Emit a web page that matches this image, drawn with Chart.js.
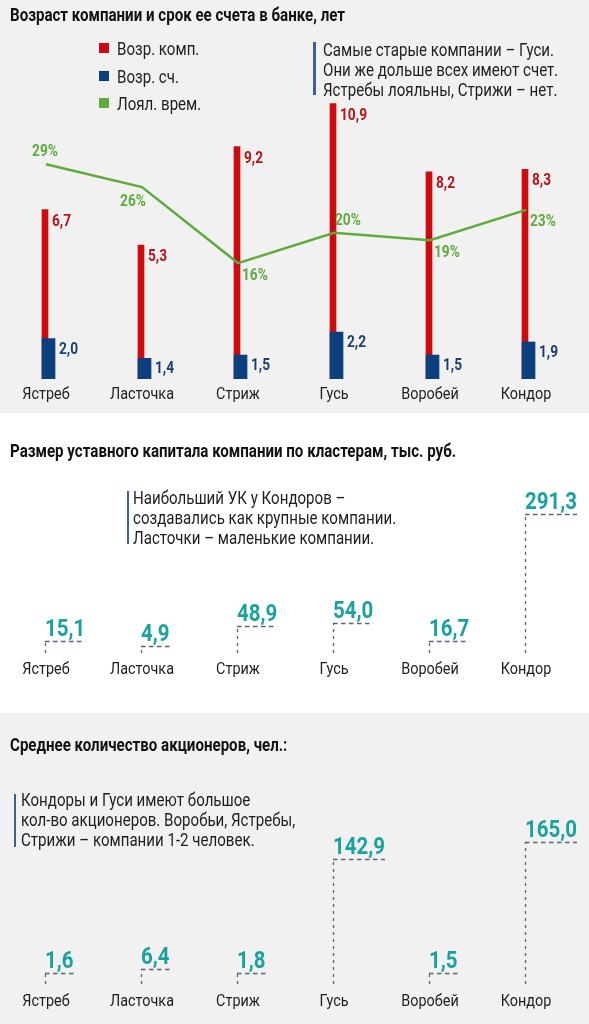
<!DOCTYPE html>
<html><head><meta charset="utf-8">
<script src="https://cdn.jsdelivr.net/npm/chart.js@4.4.1/dist/chart.umd.min.js"></script>
<style>
html,body{margin:0;padding:0;}
body{width:589px;height:1024px;position:relative;overflow:hidden;background:#fff;}
.panel{position:absolute;left:0;width:589px;}
.cw{position:absolute;left:-2px;width:591px;}
.t{position:absolute;white-space:nowrap;transform-origin:0 0;margin:0;padding:0;}
.nb{position:absolute;background:#41628f;width:2.5px;}
.sq{position:absolute;width:10px;height:10px;}
</style></head><body>
<div class="panel" style="top:0;height:413px;background:#f1f1f1"></div>
<div class="panel" style="top:413px;height:300px;background:#ffffff"></div>
<div class="panel" style="top:713px;height:311px;background:#f1f1f1"></div>
<div class="cw" style="top:0;height:412px"><canvas id="c1"></canvas></div>
<div class="cw" style="top:413px;height:300px"><canvas id="c2"></canvas></div>
<div class="cw" style="top:713px;height:311px"><canvas id="c3"></canvas></div>
<script>
// ---------------- DATA ----------------
const categories   = ['Ястреб','Ласточка','Стриж','Гусь','Воробей','Кондор'];
const companyAge   = [6.7, 5.3, 9.2, 10.9, 8.2, 8.3];     // Возр. комп., лет
const accountAge   = [2.0, 1.4, 1.5, 2.2, 1.5, 1.9];      // Возр. сч., лет
const loyaltyPct   = [29, 26, 16, 20, 19, 23];            // Лоял. врем., %
const capitalK     = [15.1, 4.9, 48.9, 54.0, 16.7, 291.3]; // тыс. руб.
const shareholders = [1.6, 6.4, 1.8, 142.9, 1.5, 165.0];  // чел.
const seriesNames  = ['Возр. комп.', 'Возр. сч.', 'Лоял. врем.'];
const titles = [
  'Возраст компании и срок ее счета в банке, лет',
  'Размер уставного капитала компании по кластерам, тыс. руб.',
  'Среднее количество акционеров, чел.:'
];
const notes = [
  ['Самые старые компании – Гуси.', 'Они же дольше всех имеют счет.', 'Ястребы лояльны, Стрижи – нет.'],
  ['Наибольший УК у Кондоров –', 'создавались как крупные компании.', 'Ласточки – маленькие компании.'],
  ['Кондоры и Гуси имеют большое', 'кол-во акционеров. Воробьи, Ястребы,', 'Стрижи – компании 1-2 человек.']
];
// label placement style for loyalty line (not data)
const loyaltyLabelPos = ['top','bottomLeft','bottomRight','topRight','bottomRight','bottomRight'];

// ---------------- STYLE ----------------
const RED = '#cc0a0f', RED_T = '#b8121a';
const BLUE = '#0b3f80', BLUE_T = '#1d3f74';
const GREEN = '#5eab3b', GREEN_T = '#5faa3c';
const TEAL = '#1aa39e', DASH = '#56657a';
const TXT = '#1e1e1e';

function hasFont(name){
  const c = document.createElement('canvas').getContext('2d');
  const s = 'Самые старые компании mmmwwwiii 0123';
  for (const fb of ['monospace','serif']) {
    c.font = '30px ' + fb; const a = c.measureText(s).width;
    c.font = "30px '" + name + "', " + fb; const b = c.measureText(s).width;
    if (Math.abs(a-b) > 0.01) return true;
  }
  return false;
}
const FAM = hasFont('Liberation Sans Narrow') ? "'Liberation Sans Narrow'" : (hasFont('Roboto') ? 'Roboto' : "'Liberation Sans'");
const FAMC = FAM.replace(/'/g,'');

const mctx = document.createElement('canvas').getContext('2d');
function tw(text, font){ mctx.font = font; return mctx.measureText(text).width; }
function fm(font){ mctx.font = font; const m = mctx.measureText('Hg'); return {a:m.fontBoundingBoxAscent, d:m.fontBoundingBoxDescent}; }

const F_REG = '18px ' + FAM, F_TITLE = 'bold 18px ' + FAM, F_LAB = 'bold 16px ' + FAM, F_BIG = 'bold 24px ' + FAM;
const kReg = 231 / tw('Самые старые компании – Гуси.', F_REG);
const kTitle = 335 / tw(titles[0], F_TITLE);
const kLab = 27 / tw('10,9', F_LAB);
const kBig = 52 / tw('291,3', F_BIG);
const TS = 17;
const kTick = Math.min(1, 64 / tw('Ласточка', TS + 'px ' + FAM));

const fmt = v => v.toFixed(1).replace('.', ',');

function drawCond(ctx, text, x, y, font, color, k){
  ctx.save();
  ctx.font = font; ctx.fillStyle = color; ctx.textAlign = 'left'; ctx.textBaseline = 'alphabetic';
  ctx.translate(x, y); ctx.scale(k, 1); ctx.fillText(text, 0, 0);
  ctx.restore();
}

function addText(str, x, base, font, k, color, lh){
  const el = document.createElement('div');
  el.className = 't'; el.textContent = str;
  el.style.font = font; el.style.lineHeight = lh + 'px'; el.style.color = color;
  const m = fm(font); const off = (lh - (m.a + m.d)) / 2 + m.a;
  el.style.left = x + 'px'; el.style.top = (base - off) + 'px';
  el.style.transform = 'scaleX(' + k + ')';
  document.body.appendChild(el);
  return el;
}
function addNote(lines, barX, barTop, barBot, textX, base0){
  const b = document.createElement('div'); b.className = 'nb';
  b.style.left = barX + 'px'; b.style.top = barTop + 'px'; b.style.height = (barBot - barTop) + 'px';
  document.body.appendChild(b);
  lines.forEach((l, i) => addText(l, textX, base0 + i * 20, F_REG, kReg, TXT, 20));
}

Chart.defaults.font.family = FAMC;

const shiftPlugin = {
  id: 'shift',
  afterDatasetsUpdate(chart){
    chart.data.datasets.forEach((ds, i) => {
      const s = ds.xShift || 0; if (!s) return;
      chart.getDatasetMeta(i).data.forEach(el => { el.x += s; });
    });
  }
};
// condense the library-drawn tick labels horizontally (same text, narrower glyphs)
const condTicks = {
  id: 'condTicks',
  beforeDraw(chart){
    const ctx = chart.ctx;
    const orig = CanvasRenderingContext2D.prototype.fillText;
    ctx.fillText = function(t, x, y){ this.save(); this.translate(x, y); this.scale(kTick, 1); orig.call(this, t, 0, 0); this.restore(); };
  },
  beforeDatasetsDraw(chart){ delete chart.ctx.fillText; }
};

const PAD_R = 15;
function xAxis(h, mid){
  return {
    type: 'category', offset: true,
    grid: {display: false, drawTicks: false}, border: {display: false},
    ticks: {color: TXT, font: {family: FAMC, size: TS}, padding: mid - TS * 0.6, maxRotation: 0, autoSkip: false},
    afterFit(s){ s.height = h; }
  };
}

// ---------------- CHART 1 ----------------
const labels1Plugin = {
  id: 'labels1',
  afterDatasetsDraw(chart){
    const ctx = chart.ctx;
    const mL = chart.getDatasetMeta(0), mB = chart.getDatasetMeta(1), mR = chart.getDatasetMeta(2);
    const dL = chart.data.datasets[0].data, dB = chart.data.datasets[1].data, dR = chart.data.datasets[2].data;
    mR.data.forEach((el, i) => drawCond(ctx, fmt(dR[i]), el.x + el.width / 2 + 4, el.y + 16, F_LAB, RED_T, kLab));
    mB.data.forEach((el, i) => drawCond(ctx, fmt(dB[i]), el.x + el.width / 2 + 4, el.y + 15, F_LAB, BLUE_T, kLab));
    mL.data.forEach((pt, i) => {
      const t = dL[i] + '%'; const w = tw(t, F_LAB) * kLab;
      let left, mid;
      switch (loyaltyLabelPos[i]) {
        case 'top': left = pt.x - 1 - w / 2; mid = pt.y - 14; break;
        case 'bottomLeft': left = pt.x - 9 - w / 2; mid = pt.y + 12.5; break;
        case 'topRight': left = pt.x + 1; mid = pt.y - 13.5; break;
        default: left = pt.x + 4; mid = pt.y + 10.5;
      }
      drawCond(ctx, t, left, mid + 6, F_LAB, GREEN_T, kLab);
    });
  }
};

const chart1 = new Chart(document.getElementById('c1'), {
  type: 'bar',
  data: {
    labels: categories,
    datasets: [
      {type: 'line', label: seriesNames[2], data: loyaltyPct, yAxisID: 'yL', borderColor: GREEN, backgroundColor: GREEN,
       borderWidth: 2.5, pointRadius: 0, tension: 0, order: 0},
      {type: 'bar', label: seriesNames[1], data: accountAge, yAxisID: 'yB', backgroundColor: BLUE,
       barThickness: 13, grouped: false, order: 1, xShift: 2.5},
      {type: 'bar', label: seriesNames[0], data: companyAge, yAxisID: 'yR', backgroundColor: RED,
       barThickness: 6, grouped: false, order: 2, xShift: -1}
    ]
  },
  options: {
    responsive: true, maintainAspectRatio: false, animation: false, events: [],
    layout: {padding: {top: 100, left: 0, right: PAD_R, bottom: 0}},
    plugins: {legend: {display: false}, tooltip: {enabled: false}},
    scales: {
      x: xAxis(33, 15.5),
      yR: {type: 'linear', display: false, min: 0, max: 11.04},
      yB: {type: 'linear', display: false, min: 0.77, max: 9.28},
      yL: {type: 'linear', display: false, min: 0.75, max: 37.46}
    }
  },
  plugins: [shiftPlugin, condTicks, labels1Plugin]
});

// ---------------- CHARTS 2 & 3 ----------------
const markerPlugin = {
  id: 'markers',
  afterDatasetsDraw(chart){
    const ctx = chart.ctx; const meta = chart.getDatasetMeta(0);
    const data = chart.data.datasets[0].data; const bottom = chart.chartArea.bottom;
    meta.data.forEach((el, i) => {
      const x = Math.round(el.x - 1), y = Math.round(el.y);
      const txt = fmt(data[i]); const w = tw(txt, F_BIG) * kBig;
      ctx.save();
      ctx.strokeStyle = DASH; ctx.lineWidth = 1.3;
      ctx.setLineDash([3, 4]);
      ctx.beginPath(); ctx.moveTo(x + 0.5, bottom); ctx.lineTo(x + 0.5, y); ctx.stroke();
      ctx.setLineDash([4.5, 3.5]);
      ctx.beginPath(); ctx.moveTo(x, y + 0.5); ctx.lineTo(x + w, y + 0.5); ctx.stroke();
      ctx.restore();
      drawCond(ctx, txt, x, y - 5.5, F_BIG, TEAL, kBig);
    });
  }
};

function markerChart(id, label, values, padTop, axisH, tickMid, min, max){
  return new Chart(document.getElementById(id), {
    type: 'bar',
    data: {labels: categories, datasets: [{label: label, data: values, backgroundColor: 'rgba(0,0,0,0)', borderWidth: 0}]},
    options: {
      responsive: true, maintainAspectRatio: false, animation: false, events: [],
      layout: {padding: {top: padTop, left: 0, right: PAD_R, bottom: 0}},
      plugins: {legend: {display: false}, tooltip: {enabled: false}},
      scales: {
        x: xAxis(axisH, tickMid),
        y: {type: 'linear', display: false, min: min, max: max}
      }
    },
    plugins: [condTicks, markerPlugin]
  });
}
markerChart('c2', titles[1], capitalK, 100, 60, 17, -10.2, 293.5);
markerChart('c3', titles[2], shareholders, 121, 40, 17.5, -12, 174.6);

// ---------------- TEXT: titles, legend, notes ----------------
addText(titles[0], 10, 21, F_TITLE, kTitle, '#111', 20);
addText(titles[1], 10, 457, F_TITLE, kTitle, '#111', 20);
addText(titles[2], 10, 751, F_TITLE, kTitle, '#111', 20);

// legend built from chart 1 datasets (in series order)
[2, 1, 0].forEach((di, row) => {
  const ds = chart1.data.datasets[di];
  const sq = document.createElement('div'); sq.className = 'sq';
  sq.style.background = ds.backgroundColor; sq.style.left = '99px'; sq.style.top = (43 + row * 27.5) + 'px';
  document.body.appendChild(sq);
  addText(ds.label, 117, 55.5 + row * 27.5, F_REG, kReg, TXT, 20);
});

addNote(notes[0], 313, 42, 95, 323, 56);
addNote(notes[1], 126.5, 491, 544, 133, 504);
addNote(notes[2], 13.5, 794, 847, 21, 806);
</script>
</body></html>
